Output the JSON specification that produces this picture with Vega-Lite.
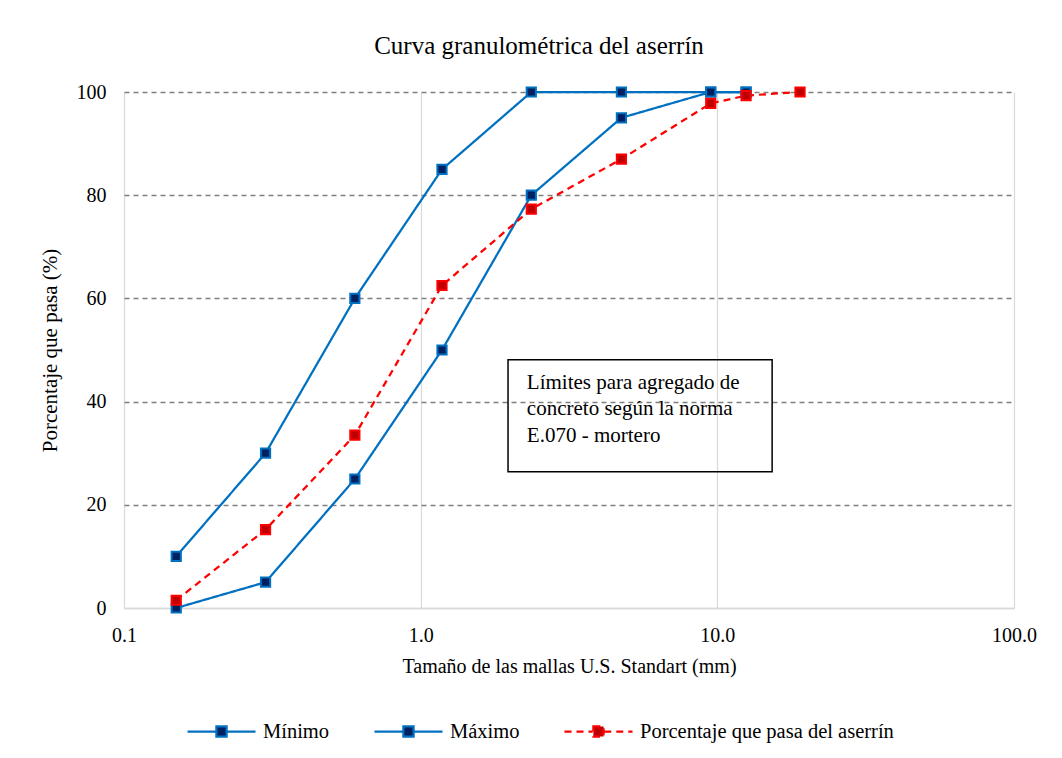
{
  "$schema": "https://vega.github.io/schema/vega-lite/v6.json",
  "autosize": "none",
  "width": 890,
  "height": 516,
  "padding": {"left": 124, "top": 92, "right": 48, "bottom": 150},
  "background": "white",
  "title": {
    "text": "Curva granulométrica del aserrín",
    "font": "Liberation Serif",
    "fontSize": 25,
    "fontWeight": "normal",
    "color": "#000000",
    "offset": 23,
    "dx": -30
  },
  "config": {
    "font": "Liberation Serif",
    "view": {"stroke": null}
  },
  "datasets": {
    "curves": [
      {"serie": "Mínimo", "tamano": 0.15, "pasa": 0},
      {"serie": "Mínimo", "tamano": 0.3, "pasa": 5},
      {"serie": "Mínimo", "tamano": 0.6, "pasa": 25},
      {"serie": "Mínimo", "tamano": 1.18, "pasa": 50},
      {"serie": "Mínimo", "tamano": 2.36, "pasa": 80},
      {"serie": "Mínimo", "tamano": 4.75, "pasa": 95},
      {"serie": "Mínimo", "tamano": 9.5, "pasa": 100},
      {"serie": "Mínimo", "tamano": 12.5, "pasa": 100},
      {"serie": "Máximo", "tamano": 0.15, "pasa": 10},
      {"serie": "Máximo", "tamano": 0.3, "pasa": 30},
      {"serie": "Máximo", "tamano": 0.6, "pasa": 60},
      {"serie": "Máximo", "tamano": 1.18, "pasa": 85},
      {"serie": "Máximo", "tamano": 2.36, "pasa": 100},
      {"serie": "Máximo", "tamano": 4.75, "pasa": 100},
      {"serie": "Máximo", "tamano": 9.5, "pasa": 100},
      {"serie": "Máximo", "tamano": 12.5, "pasa": 100},
      {"serie": "Porcentaje que pasa del aserrín", "tamano": 0.15, "pasa": 1.5},
      {"serie": "Porcentaje que pasa del aserrín", "tamano": 0.3, "pasa": 15.2},
      {"serie": "Porcentaje que pasa del aserrín", "tamano": 0.6, "pasa": 33.5},
      {"serie": "Porcentaje que pasa del aserrín", "tamano": 1.18, "pasa": 62.5},
      {"serie": "Porcentaje que pasa del aserrín", "tamano": 2.36, "pasa": 77.3},
      {"serie": "Porcentaje que pasa del aserrín", "tamano": 4.75, "pasa": 87},
      {"serie": "Porcentaje que pasa del aserrín", "tamano": 9.5, "pasa": 97.8},
      {"serie": "Porcentaje que pasa del aserrín", "tamano": 12.5, "pasa": 99.3},
      {"serie": "Porcentaje que pasa del aserrín", "tamano": 19, "pasa": 100}
    ],
    "box": [
      {"x1": 1.97, "x2": 15.3, "y1": 48.1, "y2": 26.4}
    ],
    "notes": [
      {"tx": 2.28, "ty": 43.6, "texto": "Límites para agregado de"},
      {"tx": 2.28, "ty": 38.5, "texto": "concreto según la norma"},
      {"tx": 2.28, "ty": 33.4, "texto": "E.070 - mortero"}
    ]
  },
  "layer": [
    {
      "data": {"name": "curves"},
      "mark": {"type": "line", "strokeWidth": 2.25},
      "encoding": {
        "x": {
          "field": "tamano",
          "type": "quantitative",
          "scale": {"type": "log", "domain": [0.1, 100], "nice": false},
          "axis": {
            "title": "Tamaño de las mallas U.S. Standart (mm)",
            "titleFont": "Liberation Serif",
            "titleFontSize": 20,
            "titleFontWeight": "normal",
            "titleColor": "#000000",
            "titlePadding": 11,
            "values": [0.1, 1, 10, 100],
            "format": ".1f",
            "labelFont": "Liberation Serif",
            "labelFontSize": 20,
            "labelColor": "#000000",
            "labelPadding": 17,
            "labelFlush": false,
            "ticks": false,
            "domain": true,
            "domainColor": "#d9d9d9",
            "domainWidth": 1.5,
            "grid": true,
            "gridColor": "#d9d9d9",
            "gridWidth": 1.2
          }
        },
        "y": {
          "field": "pasa",
          "type": "quantitative",
          "scale": {"domain": [0, 100], "nice": false},
          "axis": {
            "title": "Porcentaje que pasa (%)",
            "titleFont": "Liberation Serif",
            "titleFontSize": 21,
            "titleFontWeight": "normal",
            "titleColor": "#000000",
            "titlePadding": 16,
            "values": [0, 20, 40, 60, 80, 100],
            "labelFont": "Liberation Serif",
            "labelFontSize": 20,
            "labelColor": "#000000",
            "labelPadding": 18,
            "ticks": false,
            "domain": false,
            "grid": true,
            "gridColor": {"condition": {"test": "datum.value === 0", "value": "#d9d9d9"}, "value": "#7f7f7f"},
            "gridDash": {"condition": {"test": "datum.value === 0", "value": [1, 0]}, "value": [5, 4]},
            "gridWidth": 1.3
          }
        },
        "color": {
          "field": "serie",
          "type": "nominal",
          "scale": {
            "domain": ["Mínimo", "Máximo", "Porcentaje que pasa del aserrín"],
            "range": ["#0070C0", "#0070C0", "#FF0000"]
          },
          "legend": {
            "orient": "none",
            "legendX": 62,
            "legendY": 604,
            "direction": "horizontal",
            "title": null,
            "symbolType": "M-1,0H-0.17M0.17,0H1M-0.15,-0.15H0.15V0.15H-0.15Z",
            "symbolSize": 4624,
            "symbolStrokeWidth": 2.25,
            "labelFont": "Liberation Serif",
            "labelFontSize": 20.5,
            "labelColor": "#000000",
            "labelOffset": 6,
            "labelLimit": 0,
            "columnPadding": 40,
            "encode": {
              "symbols": {
                "update": {
                  "fill": {"signal": "datum.value === 'Porcentaje que pasa del aserrín' ? '#C00000' : '#002060'"},
                  "opacity": {"value": 1}
                }
              }
            }
          }
        },
        "strokeDash": {
          "field": "serie",
          "type": "nominal",
          "scale": {
            "domain": ["Mínimo", "Máximo", "Porcentaje que pasa del aserrín"],
            "range": [[1, 0], [1, 0], [7, 5]]
          }
        }
      }
    },
    {
      "data": {"name": "curves"},
      "mark": {"type": "point", "shape": "square", "size": 85, "strokeWidth": 2, "opacity": 1, "filled": true},
      "encoding": {
        "x": {"field": "tamano", "type": "quantitative"},
        "y": {"field": "pasa", "type": "quantitative"},
        "fill": {
          "field": "serie",
          "type": "nominal",
          "scale": {
            "domain": ["Mínimo", "Máximo", "Porcentaje que pasa del aserrín"],
            "range": ["#002060", "#002060", "#C00000"]
          },
          "legend": null
        },
        "stroke": {
          "field": "serie",
          "type": "nominal",
          "scale": {
            "domain": ["Mínimo", "Máximo", "Porcentaje que pasa del aserrín"],
            "range": ["#0070C0", "#0070C0", "#FF0000"]
          },
          "legend": null
        }
      }
    },
    {
      "data": {"name": "box"},
      "mark": {"type": "rect", "fill": null, "fillOpacity": 0, "stroke": "#000000", "strokeWidth": 1.5},
      "encoding": {
        "x": {"field": "x1", "type": "quantitative"},
        "x2": {"field": "x2"},
        "y": {"field": "y1", "type": "quantitative"},
        "y2": {"field": "y2"}
      }
    },
    {
      "data": {"name": "notes"},
      "mark": {"type": "text", "align": "left", "baseline": "middle", "font": "Liberation Serif", "fontSize": 21, "color": "#000000"},
      "encoding": {
        "x": {"field": "tx", "type": "quantitative"},
        "y": {"field": "ty", "type": "quantitative"},
        "text": {"field": "texto"}
      }
    }
  ]
}
